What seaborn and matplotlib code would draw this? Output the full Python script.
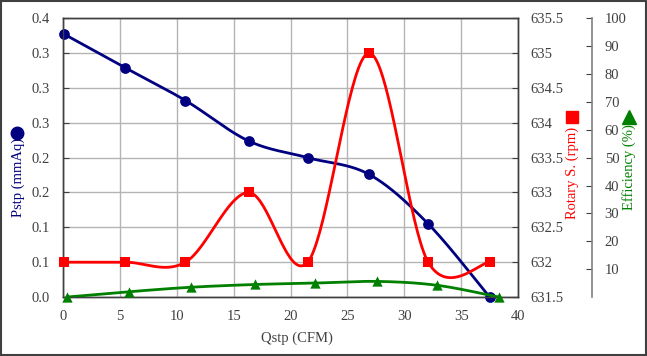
import numpy as np
import pandas as pd
import matplotlib
matplotlib.use("Agg")
import matplotlib.pyplot as plt
import seaborn as sns
from matplotlib.lines import Line2D
from matplotlib.patches import Rectangle

# ---- data ----
q_stp = [0.1, 5.45, 10.75, 16.3, 21.5, 26.9, 32.1, 37.5]
p_stp = [0.377, 0.329, 0.282, 0.224, 0.200, 0.176, 0.105, 0.0]
rotary_speed = [632.0, 632.0, 632.0, 633.0, 632.0, 635.0, 632.0, 632.0]
q_eff = [0.35, 5.8, 11.2, 16.9, 22.1, 27.6, 32.9, 38.3]
efficiency = [0.0, 1.9, 3.5, 4.5, 5.0, 5.6, 4.2, 0.0]

x_ticks = [0, 5, 10, 15, 20, 25, 30, 35, 40]
p_ticks = [0.0, 0.05, 0.10, 0.15, 0.20, 0.25, 0.30, 0.35, 0.40]
p_tick_labels = ["0.0", "0.1", "0.1", "0.2", "0.2", "0.3", "0.3", "0.3", "0.4"]
rpm_ticks = [631.5, 632, 632.5, 633, 633.5, 634, 634.5, 635, 635.5]
eff_ticks = [10, 20, 30, 40, 50, 60, 70, 80, 90, 100]

NAVY = "#000080"
RED = "#FF0000"
GREEN = "#008000"
TXT = "#404040"


def smooth(x, y, n=40):
    """Catmull-Rom style smoothing (like a spreadsheet 'smoothed line')."""
    P = np.column_stack([x, y]).astype(float)
    out = []
    m = len(P)
    for i in range(m - 1):
        p0 = P[i - 1] if i > 0 else P[i]
        p1 = P[i]
        p2 = P[i + 1]
        p3 = P[i + 2] if i + 2 < m else P[i + 1]
        c1 = p1 + (p2 - p0) / 6.0
        c2 = p2 - (p3 - p1) / 6.0
        t = np.linspace(0, 1, n, endpoint=(i == m - 2))[:, None]
        b = ((1 - t) ** 3) * p1 + 3 * ((1 - t) ** 2) * t * c1 + 3 * (1 - t) * t ** 2 * c2 + t ** 3 * p2
        out.append(b)
    out = np.vstack(out)
    return pd.DataFrame({"x": out[:, 0], "y": out[:, 1]})


sns.set_style("white")
plt.rcParams["font.family"] = ["Liberation Serif", "DejaVu Serif"]
plt.rcParams["font.size"] = 10.5

fig = plt.figure(figsize=(6.47, 3.56), dpi=100)
ax = fig.add_axes([0.0978, 0.1657, 0.7028, 0.7829])

# grid
ax.set_xlim(0, 40)
ax.set_ylim(0, 0.4)
ax.set_xticks(x_ticks)
ax.set_yticks(p_ticks)
ax.set_yticklabels(p_tick_labels)
ax.grid(True, color="#b4b4b4", lw=1.0)
ax.set_axisbelow(True)
for s in ax.spines.values():
    s.set_color(TXT)
    s.set_linewidth(1.0)
ax.tick_params(axis="y", direction="in", length=4, pad=10, colors=TXT, labelsize=10.5)
ax.tick_params(axis="x", direction="in", length=0, pad=9, colors=TXT, labelsize=10.5)

# Pstp
d1 = smooth(q_stp, p_stp)
sns.lineplot(data=d1, x="x", y="y", sort=False, estimator=None, color=NAVY, lw=2.0, ax=ax)
sns.scatterplot(x=q_stp, y=p_stp, marker="o", s=60, color=NAVY, edgecolor=NAVY, linewidth=0, ax=ax,
                zorder=5, clip_on=False)
ax.set_xlabel("")
ax.set_ylabel("")

# Rotary speed
ax2 = ax.twinx()
d2 = smooth(q_stp, rotary_speed)
sns.lineplot(data=d2, x="x", y="y", sort=False, estimator=None, color=RED, lw=2.0, ax=ax2)
sns.scatterplot(x=q_stp, y=rotary_speed, marker="s", s=60, color=RED, edgecolor=RED, linewidth=0,
                ax=ax2, zorder=5, clip_on=False)
ax2.set_ylim(631.5, 635.5)
ax2.set_yticks(rpm_ticks)
ax2.set_yticklabels([f"{v:g}" for v in rpm_ticks])
ax2.set_xlim(0, 40)
ax2.tick_params(axis="y", direction="in", length=4, pad=9, colors=TXT, labelsize=10.5)
ax2.set_ylabel("")
ax2.set_xlabel("")
for s in ax2.spines.values():
    s.set_color(TXT)
    s.set_linewidth(1.0)

# Efficiency
ax3 = ax.twinx()
d3 = smooth(q_eff, efficiency)
sns.lineplot(data=d3, x="x", y="y", sort=False, estimator=None, color=GREEN, lw=2.0, ax=ax3)
sns.scatterplot(x=q_eff, y=efficiency, marker="^", s=55, color=GREEN, edgecolor=GREEN, linewidth=0,
                ax=ax3, zorder=5, clip_on=False)
ax3.set_ylim(0, 100)
ax3.set_xlim(0, 40)
ax3.set_yticks(eff_ticks)
ax3.spines["right"].set_position(("axes", 1.163))
for k in ("top", "left", "bottom"):
    ax3.spines[k].set_visible(False)
ax3.spines["right"].set_color("#808080")
ax3.spines["right"].set_linewidth(1.2)
ax3.tick_params(axis="y", direction="in", length=4, pad=9, colors=TXT, labelsize=10.5)
ax3.set_ylabel("")
ax3.set_xlabel("")

# axis titles
fig.text(297 / 647, 1 - 338 / 356, "Qstp (CFM)", ha="center", va="center", color=TXT, fontsize=10.5)
fig.text(18 / 647, 1 - 177 / 356, "Pstp (mmAq)", rotation=90, ha="center", va="center", color=NAVY, fontsize=10.5)
fig.text(572 / 647, 1 - 173 / 356, "Rotary S. (rpm)", rotation=90, ha="center", va="center", color=RED, fontsize=10.5)
fig.text(629 / 647, 1 - 167 / 356, "Efficiency (%)", rotation=90, ha="center", va="center", color=GREEN, fontsize=10.5)

# legend-like symbols at the end of the axis titles
fig.add_artist(Line2D([17 / 647], [1 - 133 / 356], marker="o", markersize=9, color=NAVY, lw=0,
                      transform=fig.transFigure))
fig.add_artist(Line2D([572 / 647], [1 - 117 / 356], marker="s", markersize=8.5, color=RED, lw=0,
                      transform=fig.transFigure))
fig.add_artist(Line2D([629 / 647], [1 - 117 / 356], marker="^", markersize=9.5, color=GREEN, lw=0,
                      transform=fig.transFigure))

# outer frame
fig.patches.append(Rectangle((0.0015, 0.003), 0.997, 0.994, transform=fig.transFigure, fill=False,
                             edgecolor="#404040", lw=1.5))

fig.savefig("out.png", dpi=100)
